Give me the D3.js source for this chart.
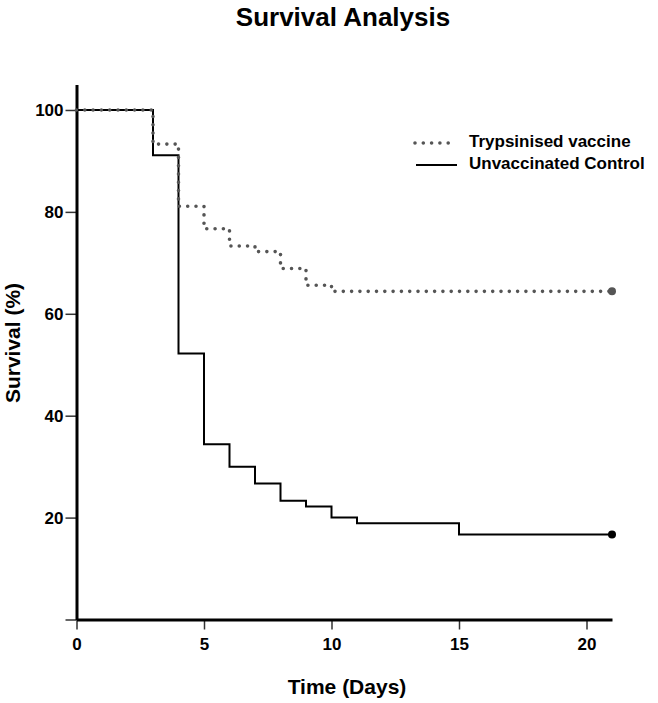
<!DOCTYPE html>
<html>
<head>
<meta charset="utf-8">
<script src="https://cdn.jsdelivr.net/npm/d3@7"></script>
<style>
  body { margin: 0; background: #fff; }
  svg text { font-family: "Liberation Sans", Arial, sans-serif; font-weight: bold; fill: #000; }
</style>
</head>
<body>
<div class="chart"></div>
<script>
  // data (percent survival at each day)
  let vaccineDays = [0, 3, 4, 5, 6, 7, 8, 9, 10, 21]
  let vaccineSurvival = [100, 93.3, 81.1, 76.7, 73.3, 72.2, 68.9, 65.6, 64.4, 64.4]
  let controlDays = [0, 3, 4, 5, 6, 7, 8, 9, 10, 11, 15, 21]
  let controlSurvival = [100, 91.1, 52.2, 34.4, 30.0, 26.7, 23.3, 22.2, 20.0, 18.9, 16.7, 16.7]
  let xTicks = [0, 5, 10, 15, 20]
  let yTicks = [0, 20, 40, 60, 80, 100]
  let seriesNames = ['Trypsinised vaccine', 'Unvaccinated Control']

  let width = 658, height = 703
  let svg = d3.select('.chart').append('svg')
    .attr('width', width)
    .attr('height', height)

  let x = d3.scaleLinear().domain([0, 21]).range([76.5, 612])
  let y = d3.scaleLinear().domain([0, 105]).range([619.5, 84.5])

  let zip = (days, vals) => days.map((d, i) => ({ day: d, value: vals[i] }))
  let vaccine = zip(vaccineDays, vaccineSurvival)
  let control = zip(controlDays, controlSurvival)

  let line = d3.line()
    .x(d => x(d.day))
    .y(d => y(d.value))
    .curve(d3.curveStepAfter)

  // axes
  let xAxis = svg.append('g')
    .attr('transform', `translate(0,${y(0)})`)
    .call(d3.axisBottom(x).tickValues(xTicks).tickSize(10).tickPadding(8).tickSizeOuter(0))
  let yAxis = svg.append('g')
    .attr('transform', `translate(${x(0)},0)`)
    .call(d3.axisLeft(y).tickValues(yTicks).tickSize(11).tickPadding(2).tickSizeOuter(0)
      .tickFormat(d => d === 0 ? '' : d))

  ;[xAxis, yAxis].forEach(ax => {
    ax.select('.domain').attr('stroke', '#000').attr('stroke-width', 3)
    ax.selectAll('.tick line').attr('stroke', '#333').attr('stroke-width', 1.5)
    ax.selectAll('.tick text').style('font-size', '17px').attr('fill', '#000')
  })
  xAxis.select('.domain').raise()
  yAxis.select('.domain').raise()

  // survival curves
  svg.append('path')
    .datum(control)
    .attr('d', line)
    .attr('fill', 'none')
    .attr('stroke', '#000')
    .attr('stroke-width', 2)

  svg.append('path')
    .datum(vaccine)
    .attr('d', line)
    .attr('fill', 'none')
    .attr('stroke', '#555')
    .attr('stroke-width', 3.6)
    .attr('stroke-linecap', 'round')
    .attr('stroke-dasharray', '0 8.3')

  // end points
  svg.append('circle')
    .attr('cx', x(vaccine[vaccine.length - 1].day))
    .attr('cy', y(vaccine[vaccine.length - 1].value))
    .attr('r', 4)
    .attr('fill', '#555')
  svg.append('circle')
    .attr('cx', x(control[control.length - 1].day))
    .attr('cy', y(control[control.length - 1].value))
    .attr('r', 4)
    .attr('fill', '#000')

  // legend
  let legend = svg.append('g').attr('transform', 'translate(415,143)')
  legend.append('line')
    .attr('x1', 0).attr('x2', 37).attr('y1', 0).attr('y2', 0)
    .attr('stroke', '#555')
    .attr('stroke-width', 3.6)
    .attr('stroke-linecap', 'round')
    .attr('stroke-dasharray', '0 8.3')
  legend.append('line')
    .attr('x1', 1).attr('x2', 42).attr('y1', 22).attr('y2', 22)
    .attr('stroke', '#000')
    .attr('stroke-width', 2)
  legend.selectAll('text.leg')
    .data(seriesNames)
    .enter()
    .append('text')
    .attr('class', 'leg')
    .attr('x', 54)
    .attr('y', (d, i) => 4 + i * 22)
    .style('font-size', '17px')
    .text(d => d)

  // titles
  svg.append('text')
    .attr('x', 343).attr('y', 26)
    .attr('text-anchor', 'middle')
    .style('font-size', '26px')
    .text('Survival Analysis')
  svg.append('text')
    .attr('x', 347).attr('y', 694)
    .attr('text-anchor', 'middle')
    .style('font-size', '21px')
    .text('Time (Days)')
  svg.append('text')
    .attr('transform', 'translate(20,343) rotate(-90)')
    .attr('text-anchor', 'middle')
    .style('font-size', '21px')
    .text('Survival (%)')
</script>
</body>
</html>
